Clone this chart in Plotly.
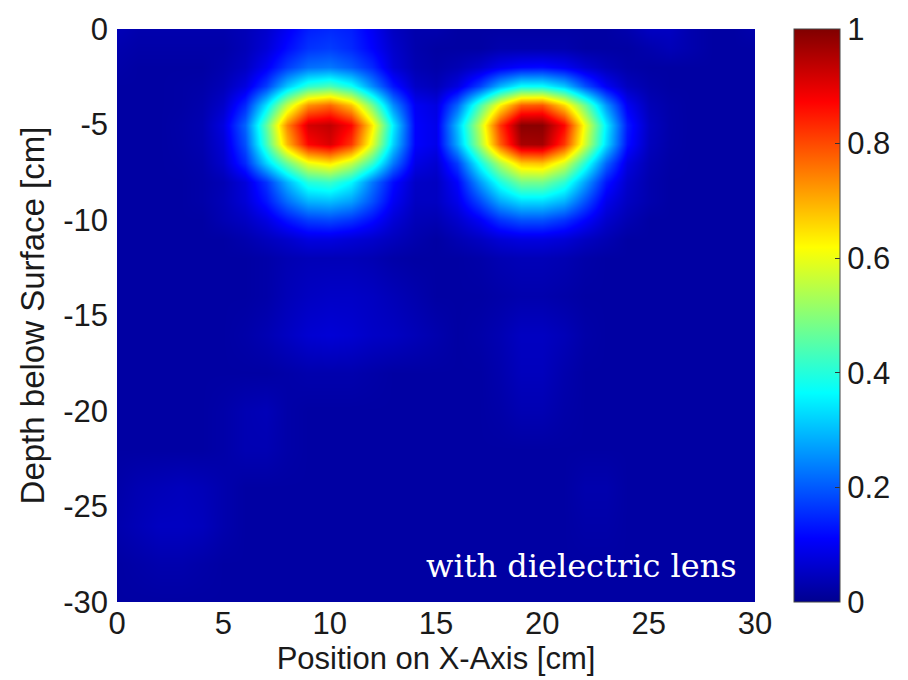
import plotly.graph_objects as go

# Grid coordinates (cm)
x_pos = list(range(0, 31))
depth = [0, -1, -2, -3, -4, -5, -6, -7, -8, -9, -10, -11, -12,
         -14, -16, -18, -20, -22, -24, -26, -28, -30]

# Normalised field intensity, one row per depth, one column per x position
row_0 = [0.04, 0.03, 0.03, 0.03, 0.03, 0.03, 0.04, 0.06, 0.10, 0.14, 0.15, 0.14, 0.10, 0.05, 0.03, 0.03,
         0.02, 0.02, 0.02, 0.02, 0.02, 0.02, 0.02, 0.02, 0.03, 0.05, 0.05, 0.03, 0.02, 0.02, 0.03]
row_1 = [0.03, 0.025, 0.025, 0.025, 0.025, 0.025, 0.04, 0.07, 0.12, 0.16, 0.17, 0.15, 0.11, 0.06, 0.03, 0.02,
         0.02, 0.02, 0.03, 0.03, 0.03, 0.03, 0.02, 0.02, 0.02, 0.03, 0.04, 0.03, 0.02, 0.02, 0.02]
row_2 = [0.025, 0.02, 0.02, 0.02, 0.02, 0.03, 0.05, 0.10, 0.17, 0.22, 0.23, 0.20, 0.15, 0.07, 0.035, 0.025,
         0.037, 0.06, 0.095, 0.115, 0.12, 0.10, 0.065, 0.04, 0.025, 0.02, 0.02, 0.02, 0.02, 0.02, 0.02]
row_3 = [0.02, 0.02, 0.02, 0.022, 0.025, 0.04, 0.08, 0.17, 0.31, 0.41, 0.44, 0.38, 0.25, 0.13, 0.055, 0.04,
         0.08, 0.17, 0.29, 0.37, 0.37, 0.31, 0.19, 0.10, 0.047, 0.027, 0.02, 0.02, 0.02, 0.02, 0.02]
row_4 = [0.02, 0.02, 0.02, 0.022, 0.03, 0.058, 0.15, 0.34, 0.56, 0.73, 0.77, 0.68, 0.48, 0.25, 0.10, 0.08,
         0.21, 0.43, 0.63, 0.78, 0.79, 0.66, 0.47, 0.26, 0.10, 0.04, 0.025, 0.02, 0.02, 0.02, 0.02]
row_5 = [0.02, 0.02, 0.02, 0.025, 0.034, 0.08, 0.21, 0.46, 0.74, 0.915, 0.935, 0.87, 0.64, 0.35, 0.11, 0.09,
         0.30, 0.55, 0.82, 0.99, 0.99, 0.87, 0.60, 0.35, 0.135, 0.05, 0.026, 0.02, 0.02, 0.02, 0.02]
row_6 = [0.02, 0.02, 0.02, 0.024, 0.033, 0.07, 0.19, 0.43, 0.69, 0.87, 0.91, 0.82, 0.59, 0.32, 0.11, 0.09,
         0.28, 0.52, 0.78, 0.96, 0.965, 0.82, 0.57, 0.33, 0.125, 0.046, 0.025, 0.02, 0.02, 0.02, 0.02]
row_7 = [0.02, 0.02, 0.02, 0.022, 0.028, 0.06, 0.15, 0.32, 0.47, 0.60, 0.64, 0.56, 0.42, 0.23, 0.085, 0.065,
         0.17, 0.37, 0.54, 0.67, 0.68, 0.58, 0.40, 0.21, 0.08, 0.036, 0.022, 0.02, 0.02, 0.02, 0.02]
row_8 = [0.02, 0.02, 0.02, 0.02, 0.025, 0.037, 0.075, 0.16, 0.29, 0.40, 0.42, 0.36, 0.23, 0.12, 0.055, 0.05,
         0.11, 0.26, 0.39, 0.48, 0.48, 0.41, 0.27, 0.13, 0.06, 0.03, 0.02, 0.02, 0.02, 0.02, 0.02]
row_9 = [0.02, 0.02, 0.02, 0.02, 0.025, 0.04, 0.07, 0.13, 0.22, 0.29, 0.30, 0.27, 0.19, 0.10, 0.05, 0.05,
         0.09, 0.18, 0.28, 0.33, 0.33, 0.29, 0.19, 0.09, 0.05, 0.03, 0.02, 0.02, 0.02, 0.02, 0.02]
row_10 = [0.02, 0.02, 0.02, 0.02, 0.02, 0.035, 0.05, 0.08, 0.13, 0.17, 0.18, 0.16, 0.12, 0.07, 0.04, 0.035,
          0.06, 0.10, 0.16, 0.19, 0.19, 0.16, 0.11, 0.06, 0.035, 0.02, 0.02, 0.02, 0.02, 0.02, 0.02]
row_11 = [0.02, 0.02, 0.02, 0.02, 0.02, 0.02, 0.03, 0.045, 0.06, 0.08, 0.08, 0.07, 0.06, 0.045, 0.03, 0.02,
          0.035, 0.05, 0.07, 0.08, 0.08, 0.07, 0.05, 0.035, 0.02, 0.02, 0.02, 0.02, 0.02, 0.02, 0.02]
row_12 = [0.02, 0.02, 0.02, 0.02, 0.02, 0.02, 0.02, 0.025, 0.035, 0.04, 0.04, 0.04, 0.035, 0.025, 0.02, 0.02,
          0.02, 0.025, 0.035, 0.04, 0.04, 0.035, 0.025, 0.02, 0.02, 0.02, 0.02, 0.02, 0.02, 0.02, 0.02]
row_14 = [0.02, 0.02, 0.02, 0.02, 0.02, 0.02, 0.02, 0.025, 0.04, 0.05, 0.055, 0.055, 0.05, 0.04, 0.03, 0.02,
          0.02, 0.02, 0.025, 0.03, 0.03, 0.025, 0.02, 0.02, 0.02, 0.02, 0.02, 0.02, 0.02, 0.02, 0.02]
row_16 = [0.02, 0.02, 0.02, 0.02, 0.02, 0.02, 0.025, 0.035, 0.05, 0.065, 0.07, 0.065, 0.055, 0.05, 0.04, 0.03,
          0.02, 0.025, 0.035, 0.05, 0.05, 0.04, 0.025, 0.02, 0.02, 0.02, 0.02, 0.02, 0.02, 0.02, 0.02]
row_18 = [0.02, 0.02, 0.02, 0.02, 0.02, 0.02, 0.02, 0.02, 0.025, 0.03, 0.03, 0.03, 0.025, 0.02, 0.02, 0.02,
          0.02, 0.02, 0.03, 0.045, 0.045, 0.03, 0.02, 0.02, 0.02, 0.02, 0.02, 0.02, 0.02, 0.02, 0.02]
row_20 = [0.02, 0.02, 0.02, 0.02, 0.02, 0.025, 0.035, 0.04, 0.025, 0.02, 0.02, 0.02, 0.02, 0.02, 0.02, 0.02,
          0.02, 0.02, 0.025, 0.035, 0.035, 0.025, 0.02, 0.02, 0.02, 0.02, 0.02, 0.02, 0.02, 0.02, 0.02]
row_22 = [0.02, 0.02, 0.02, 0.02, 0.02, 0.025, 0.035, 0.035, 0.025, 0.02, 0.02, 0.02, 0.02, 0.02, 0.02, 0.02,
          0.02, 0.02, 0.02, 0.02, 0.02, 0.02, 0.02, 0.02, 0.02, 0.02, 0.02, 0.02, 0.02, 0.02, 0.02]
row_24 = [0.025, 0.035, 0.04, 0.045, 0.04, 0.03, 0.02, 0.02, 0.02, 0.02, 0.02, 0.02, 0.02, 0.02, 0.02, 0.02,
          0.02, 0.02, 0.02, 0.02, 0.02, 0.02, 0.03, 0.03, 0.02, 0.02, 0.02, 0.02, 0.02, 0.02, 0.02]
row_26 = [0.03, 0.04, 0.05, 0.05, 0.045, 0.03, 0.02, 0.02, 0.02, 0.02, 0.02, 0.02, 0.02, 0.02, 0.02, 0.02,
          0.02, 0.02, 0.02, 0.02, 0.02, 0.02, 0.025, 0.025, 0.02, 0.02, 0.02, 0.02, 0.02, 0.02, 0.02]
row_28 = [0.02, 0.025, 0.03, 0.03, 0.025, 0.02, 0.02, 0.02, 0.02, 0.02, 0.02, 0.02, 0.02, 0.02, 0.02, 0.02,
          0.02, 0.02, 0.02, 0.02, 0.02, 0.02, 0.02, 0.02, 0.02, 0.02, 0.02, 0.02, 0.02, 0.02, 0.02]
row_30 = [0.02] * 31

intensity = [row_0, row_1, row_2, row_3, row_4, row_5, row_6, row_7, row_8, row_9, row_10,
             row_11, row_12, row_14, row_16, row_18, row_20, row_22, row_24, row_26, row_28, row_30]

x_ticks = [0, 5, 10, 15, 20, 25, 30]
x_tick_text = ["0", "5", "10", "15", "20", "25", "30"]
y_ticks = [0, -5, -10, -15, -20, -25, -30]
y_tick_text = ["0", "-5", "-10", "-15", "-20", "-25", "-30"]
cb_ticks = [0, 0.2, 0.4, 0.6, 0.8, 1]
cb_tick_text = ["0", "0.2", "0.4", "0.6", "0.8", "1"]

# MATLAB-style jet colormap
jet = [
    [0.0, "rgb(0,0,143)"],
    [0.111, "rgb(0,0,255)"],
    [0.365, "rgb(0,255,255)"],
    [0.619, "rgb(255,255,0)"],
    [0.873, "rgb(255,0,0)"],
    [1.0, "rgb(128,0,0)"],
]

sans = "Arial, Liberation Sans, sans-serif"

fig = go.Figure(
    go.Heatmap(
        x=x_pos,
        y=depth,
        z=intensity,
        zmin=0,
        zmax=1,
        zsmooth="best",
        colorscale=jet,
        colorbar=dict(
            x=1.0605,
            xanchor="left",
            xpad=0,
            y=0.5,
            yanchor="middle",
            len=1.0,
            lenmode="fraction",
            thickness=46,
            thicknessmode="pixels",
            outlinewidth=1,
            outlinecolor="#444",
            ypad=0,
            tickvals=cb_ticks,
            ticktext=cb_tick_text,
            ticks="inside",
            ticklen=5,
            tickcolor="#333",
            tickfont=dict(family=sans, size=31, color="#1a1a1a"),
        ),
    )
)

fig.add_annotation(
    x=29.25,
    y=-28.14,
    xref="x",
    yref="y",
    xanchor="right",
    yanchor="middle",
    text="with dielectric lens",
    showarrow=False,
    font=dict(family="DejaVu Serif, serif", size=32, color="white"),
)

fig.update_layout(
    width=908,
    height=680,
    margin=dict(l=117, r=146, t=20, b=78),
    paper_bgcolor="white",
    plot_bgcolor="white",
    font=dict(family=sans, color="#1a1a1a"),
    xaxis=dict(
        range=[0, 30],
        tickvals=x_ticks,
        ticktext=x_tick_text,
        ticks="",
        showgrid=False,
        zeroline=False,
        tickfont=dict(size=31),
        title=dict(text="Position on X-Axis [cm]", font=dict(size=31), standoff=4),
    ),
    yaxis=dict(
        range=[-30, 0],
        tickvals=y_ticks,
        ticktext=y_tick_text,
        ticks="",
        ticklabelstandoff=8,
        showgrid=False,
        zeroline=False,
        tickfont=dict(size=31),
        title=dict(text="Depth below Surface [cm]", font=dict(size=33), standoff=8),
    ),
)

fig.write_html("out.html")
